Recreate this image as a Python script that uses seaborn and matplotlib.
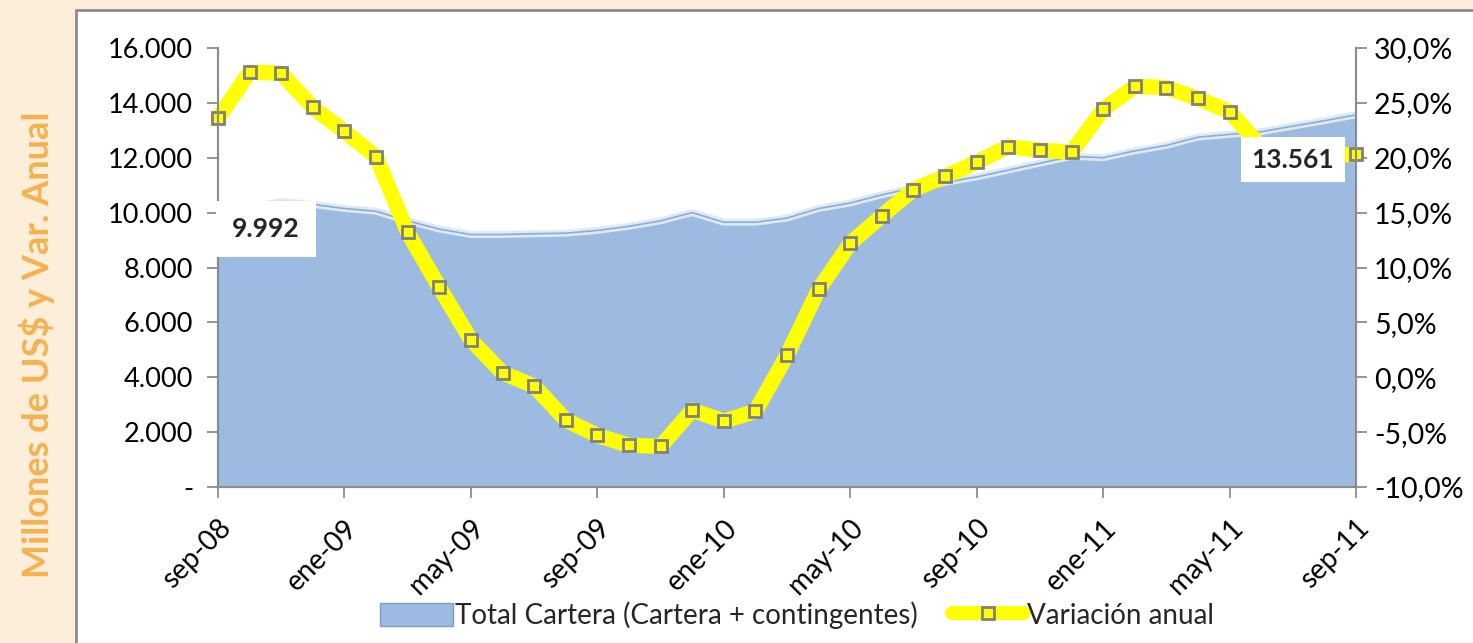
import matplotlib
matplotlib.use('Agg')
import matplotlib.pyplot as plt
import seaborn as sns
import numpy as np
from matplotlib.patches import Rectangle, Patch
from matplotlib.lines import Line2D
from matplotlib.ticker import FuncFormatter

# Cartera total (millones US$) y variacion anual (%), mensual sep-08 .. sep-11
cartera = [9992, 10200, 10400, 10300, 10150, 10050, 9700, 9400, 9200, 9200,
           9230, 9250, 9350, 9500, 9700, 10000, 9650, 9650, 9800, 10150,
           10350, 10650, 10900, 11100, 11300, 11550, 11800, 12050, 12000, 12250,
           12450, 12750, 12850, 12950, 13150, 13350, 13561]
variacion = [23.6, 27.8, 27.7, 24.6, 22.4, 20.1, 13.2, 8.2, 3.4, 0.4,
             -0.8, -3.9, -5.3, -6.2, -6.3, -3.0, -4.0, -3.1, 2.0, 8.0,
             12.2, 14.7, 17.1, 18.3, 19.6, 21.0, 20.7, 20.5, 24.4, 26.5,
             26.4, 25.4, 24.2, 21.0, 20.4, 20.2, 20.3]
tick_labels = ['sep-08', 'ene-09', 'may-09', 'sep-09', 'ene-10',
               'may-10', 'sep-10', 'ene-11', 'may-11', 'sep-11']
meses = np.arange(len(cartera))

sns.set_theme(style='white')
plt.rcParams['font.family'] = ['Lato', 'DejaVu Sans']

W, H = 1473, 643
fig = plt.figure(figsize=(W / 100, H / 100), dpi=100)
fig.patch.set_facecolor('#FDEED9')
fig.add_artist(Rectangle((76 / W, -0.05), 1, 1.05 - 10 / H, transform=fig.transFigure,
                         facecolor='white', edgecolor='#8C8C8C', lw=2, zorder=0))

ax = fig.add_axes([218 / W, 1 - 487 / H, (1356 - 218) / W, (487 - 48) / H])
ax.patch.set_alpha(0)

# area
area_color = '#9DBBE1'
ax.fill_between(meses, cartera, color=area_color, lw=0, zorder=1)
ax.plot(meses, cartera, color='#DCEAF8', lw=5, zorder=1.5)
ax.plot(meses, cartera, color='#8EABD8', lw=1.2, zorder=1.6)
ax.set_xlim(0, len(cartera) - 1)
ax.set_ylim(0, 16000)
ax.set_yticks(range(0, 16001, 2000))
ax.yaxis.set_major_formatter(FuncFormatter(
    lambda v, p: '-' if v == 0 else f'{v:,.0f}'.replace(',', '.')))
ax.set_xticks(meses[::4])
ax.set_xticklabels(tick_labels, rotation=45, ha='right', rotation_mode='anchor')

# variacion anual
ax2 = ax.twinx()
sns.lineplot(x=meses, y=variacion, ax=ax2, color='#FFFF00', lw=11,
             marker='s', markersize=8.5, markerfacecolor='#FFFF00',
             markeredgecolor='#808080', markeredgewidth=2, legend=False, clip_on=False)
ax2.set_ylim(-10, 30)
ax2.set_yticks(range(-10, 31, 5))
ax2.yaxis.set_major_formatter(FuncFormatter(lambda v, p: f'{v:.1f}%'.replace('.', ',')))
ax2.set_ylabel('')

for a in (ax, ax2):
    for s in ['left', 'right', 'bottom']:
        a.spines[s].set_color('#8C8C8C')
        a.spines[s].set_linewidth(1.5)
    a.spines['top'].set_visible(False)
    a.tick_params(axis='both', which='major', direction='out', length=8, width=1.3,
                  color='#8C8C8C', labelsize=19, labelcolor='black')
ax.tick_params(axis='y', pad=10, labelsize=19.5)
ax2.tick_params(axis='y', pad=5, labelsize=20.5)
ax.tick_params(axis='x', pad=12, bottom=True, labelsize=20)

# data labels
ax2.annotate(f'{cartera[0]:,}'.replace(',', '.'), xy=(meses[0], cartera[0]),
             xycoords=ax.transData, xytext=(48, -16), textcoords='offset pixels',
             ha='center', va='center', fontsize=19, fontweight='bold',
             bbox=dict(boxstyle='square,pad=0.6', facecolor='white', edgecolor='none'), zorder=6)
ax2.annotate(f'{cartera[-1]:,}'.replace(',', '.'), xy=(meses[-1], cartera[-1]),
             xycoords=ax.transData, xytext=(-63, -45), textcoords='offset pixels',
             ha='center', va='center', fontsize=19, fontweight='bold',
             bbox=dict(boxstyle='square,pad=0.4', facecolor='white', edgecolor='none'), zorder=6)

fig.text(37 / W, 1 - 345 / H, 'Millones de US$ y Var. Anual', rotation=90,
         color='#F6B24F', fontweight='bold', fontsize=26, ha='center', va='center',
         parse_math=False)

handles = [Patch(facecolor=area_color, edgecolor='#7F9CC8', lw=1),
           Line2D([0], [0], color='#FFFF00', lw=10, marker='s', markersize=8,
                  markerfacecolor='#FFFF00', markeredgecolor='#808080', markeredgewidth=2)]
fig.legend(handles, ['Total Cartera (Cartera + contingentes)', 'Variación anual'],
           loc='center', bbox_to_anchor=(797 / W, 1 - 615 / H), ncol=2, frameon=False,
           fontsize=20, handlelength=2.6, handleheight=0.9, handletextpad=0.1,
           columnspacing=1.2)

fig.savefig('out.png', dpi=100, facecolor=fig.get_facecolor())
